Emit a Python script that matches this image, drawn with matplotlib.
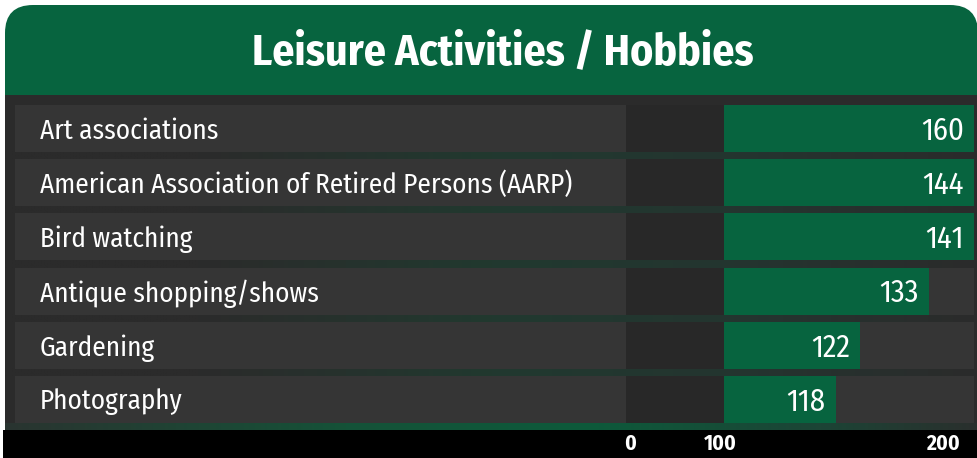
"""Leisure Activities / Hobbies: horizontal bar infographic."""

import matplotlib
matplotlib.use("Agg")
import matplotlib.pyplot as plt
import numpy as np
from matplotlib.colors import to_rgb
from matplotlib.patches import FancyBboxPatch, Rectangle
from matplotlib.transforms import blended_transform_factory

# --- data ---
categories = [
    "Art associations",
    "American Association of Retired Persons (AARP)",
    "Bird watching",
    "Antique shopping/shows",
    "Gardening",
    "Photography",
]
values = [160, 144, 141, 133, 122, 118]
tick_labels = ["0", "100", "200"]
title = "Leisure Activities / Hobbies"

# --- style ---
GREEN = "#07643f"
BG = "#2b2b2b"
PANEL = "#353535"
GAP_COL = "#282828"
FONT = ["Fira Sans Condensed", "IBM Plex Sans Condensed", "DejaVu Sans"]
plt.rcParams["font.family"] = FONT

W, H = 978, 458
ROW_TOP, ROW_PITCH, ROW_H = 105, 54.2, 47
TEXT_NUDGE = 2.5 / ROW_PITCH  # move row text slightly down


def hgradient(ax, x0, x1, y0, y1, stops):
    """Horizontal colour gradient from (position, colour) stops."""
    xs = np.linspace(0, 1, 400)
    pos = [p for p, _ in stops]
    cols = np.array([to_rgb(c) for _, c in stops])
    img = np.stack([np.interp(xs, pos, cols[:, k]) for k in range(3)], axis=-1)
    ax.imshow(img[None, :, :], extent=(x0, x1, y1, y0), aspect="auto",
              interpolation="bilinear", zorder=2)


fig = plt.figure(figsize=(W / 100, H / 100), dpi=100, facecolor="white")

# background / decoration layer in pixel coordinates
deco = fig.add_axes([0, 0, 1, 1])
deco.set_xlim(0, W)
deco.set_ylim(H, 0)
deco.axis("off")

deco.add_patch(FancyBboxPatch((5, 5), W - 5, 150,
                              boxstyle="round,pad=0,rounding_size=28",
                              fc=GREEN, ec="none", zorder=1))
deco.add_patch(Rectangle((5, 95), W - 5, 335, fc=BG, ec="none", zorder=1))
deco.add_patch(Rectangle((3, 430), W - 3, 28, fc="black", ec="none", zorder=1))

deco.text(503, 53, title, color="white", fontsize=31.5, fontweight="bold",
          ha="center", va="center")

n = len(categories)
for i in range(n):
    top = ROW_TOP + i * ROW_PITCH
    deco.add_patch(Rectangle((15, top), 611, ROW_H, fc=PANEL, ec="none", zorder=3))
    deco.add_patch(Rectangle((626, top), 98, ROW_H, fc=GAP_COL, ec="none", zorder=3))
    deco.add_patch(Rectangle((724, top), 250, ROW_H, fc=PANEL, ec="none", zorder=3))
    gap0 = top + ROW_H
    if i < n - 1:
        hgradient(deco, 5, W, gap0, gap0 + ROW_PITCH - ROW_H,
                  [(0, BG), (0.2, BG), (0.5, "#21392f"), (0.75, "#243530"), (1, BG)])
    else:
        hgradient(deco, 5, W, gap0, 430,
                  [(0, "#2a3430"), (0.35, "#155238"), (0.6, "#0d5a3b"),
                   (0.85, "#1d4335"), (1, "#2a2f2d")])

# bar layer
ax_left, ax_right = 724, 974
ax_top = ROW_TOP - (ROW_PITCH - ROW_H) / 2
ax_h = ROW_PITCH * n
ax = fig.add_axes([ax_left / W, 1 - (ax_top + ax_h) / H,
                   (ax_right - ax_left) / W, ax_h / H])
ax.patch.set_alpha(0)
ax.axis("off")
ax.set_xlim(100, 140.3)
ax.set_ylim(n - 0.5, -0.5)

y = np.arange(n)
ax.barh(y, values, height=ROW_H / ROW_PITCH, color=GREEN, zorder=4)

xmax = ax.get_xlim()[1]
for yi, v in zip(y, values):
    ax.text(min(v, xmax) - 1.6, yi + TEXT_NUDGE, str(v), color="white",
            fontsize=22, ha="right", va="center", zorder=5)

# category labels
trans = blended_transform_factory(deco.transData, ax.transData)
for yi, label in zip(y, categories):
    ax.text(40, yi + TEXT_NUDGE, label, transform=trans, color="white",
            fontsize=19.5, ha="left", va="center", zorder=5, clip_on=False)

# bottom axis strip
for xpix, lab in zip([630, 720, 943], tick_labels):
    deco.text(xpix, 444, lab, color="white", fontsize=15.5, fontweight="bold",
              ha="center", va="center", zorder=5)

fig.savefig("out.png", dpi=100, facecolor=fig.get_facecolor())
plt.close(fig)
